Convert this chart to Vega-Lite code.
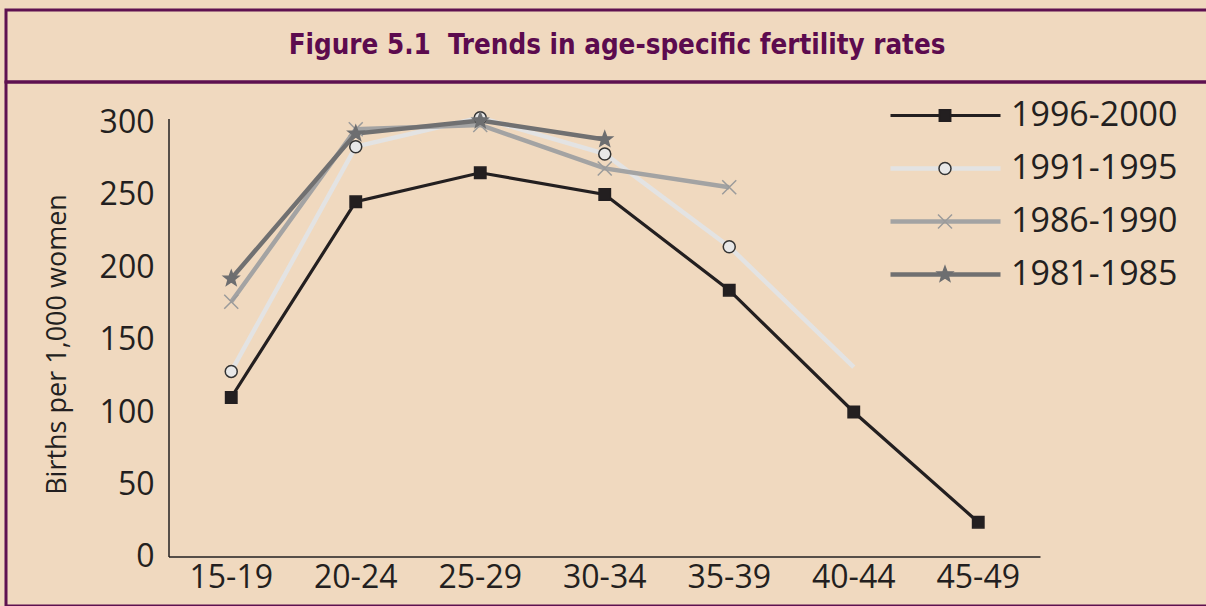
{
  "$schema": "https://vega.github.io/schema/vega-lite/v6.json",
  "background": "#F0D9BF",
  "padding": {"left": 4, "top": 8, "right": 0, "bottom": 0},
  "spacing": 0,
  "bounds": "flush",
  "config": {
    "view": {"stroke": "#5E1150", "strokeWidth": 3},
    "font": "Open Sans"
  },
  "vconcat": [
    {
      "width": 1210,
      "height": 72,
      "data": {"values": [{"label": "Figure 5.1\u00a0 Trends in age-specific fertility rates"}]},
      "mark": {"type": "text", "font": "DejaVu Sans Condensed, Roboto Condensed, Roboto", "fontWeight": "bold", "fontSize": 27.5, "color": "#5C0B4E", "align": "center", "baseline": "middle"},
      "encoding": {
        "text": {"field": "label"},
        "x": {"datum": 0.505, "type": "quantitative", "scale": {"domain": [0, 1]}, "axis": null},
        "y": {"datum": 0.5, "type": "quantitative", "scale": {"domain": [0, 1]}, "axis": null}
      }
    },
    {
      "width": 1210,
      "height": 524,
      "data": {"values": [
        {"age": "15-19", "period": "1996-2000", "rate": 110},
        {"age": "20-24", "period": "1996-2000", "rate": 245},
        {"age": "25-29", "period": "1996-2000", "rate": 265},
        {"age": "30-34", "period": "1996-2000", "rate": 250},
        {"age": "35-39", "period": "1996-2000", "rate": 184},
        {"age": "40-44", "period": "1996-2000", "rate": 100},
        {"age": "45-49", "period": "1996-2000", "rate": 24},
        {"age": "15-19", "period": "1991-1995", "rate": 128},
        {"age": "20-24", "period": "1991-1995", "rate": 283},
        {"age": "25-29", "period": "1991-1995", "rate": 303},
        {"age": "30-34", "period": "1991-1995", "rate": 278},
        {"age": "35-39", "period": "1991-1995", "rate": 214},
        {"age": "40-44", "period": "1991-1995", "rate": 131},
        {"age": "15-19", "period": "1986-1990", "rate": 176},
        {"age": "20-24", "period": "1986-1990", "rate": 295},
        {"age": "25-29", "period": "1986-1990", "rate": 298},
        {"age": "30-34", "period": "1986-1990", "rate": 268},
        {"age": "35-39", "period": "1986-1990", "rate": 255},
        {"age": "15-19", "period": "1981-1985", "rate": 192},
        {"age": "20-24", "period": "1981-1985", "rate": 292},
        {"age": "25-29", "period": "1981-1985", "rate": 301},
        {"age": "30-34", "period": "1981-1985", "rate": 288}
      ]},
      "layer": [
        {
          "data": {"values": [{}]},
          "mark": {"type": "rule", "color": "#231F20", "strokeWidth": 1.5},
          "encoding": {
            "x": {"datum": "15-19", "type": "ordinal", "bandPosition": 0},
            "y": {"datum": 0, "type": "quantitative"},
            "y2": {"datum": 302}
          }
        },
        {
          "data": {"values": [{}]},
          "mark": {"type": "rule", "color": "#231F20", "strokeWidth": 1.5},
          "encoding": {
            "x": {"datum": "15-19", "type": "ordinal", "bandPosition": 0},
            "x2": {"datum": "45-49", "bandPosition": 1},
            "y": {"datum": 0, "type": "quantitative"}
          }
        },
        {
          "mark": {"type": "line", "strokeJoin": "miter"},
          "encoding": {
            "x": {
              "field": "age", "type": "ordinal",
              "scale": {"type": "band", "domain": ["15-19", "20-24", "25-29", "30-34", "35-39", "40-44", "45-49"], "paddingInner": 0, "paddingOuter": 0, "range": [163, 1034.5]},
              "axis": {"orient": "bottom", "offset": -49, "bandPosition": 0.5, "domain": false, "ticks": false, "grid": false, "labelAngle": 0, "labelAlign": "center", "labelFontSize": 32, "labelColor": "#231F20", "labelPadding": 20, "title": null}
            },
            "y": {
              "field": "rate", "type": "quantitative",
              "scale": {"domain": [-33.8, 327.6], "nice": false, "zero": false},
              "axis": {"values": [0, 50, 100, 150, 200, 250, 300], "offset": -163, "domain": false, "ticks": false, "grid": false, "labelFontSize": 32, "labelColor": "#231F20", "labelPadding": 15, "title": "Births per 1,000 women", "titleFontSize": 27, "titleFontWeight": "normal", "titleColor": "#231F20", "titlePadding": 28}
            },
            "color": {
              "field": "period", "type": "nominal",
              "scale": {"domain": ["1996-2000", "1991-1995", "1986-1990", "1981-1985"], "range": ["#231F20", "#E3E3E3", "#A3A3A3", "#707071"]},
              "legend": {"orient": "none", "legendX": 882, "legendY": 87.5, "title": null, "symbolType": "stroke", "symbolSize": 12100, "symbolStrokeWidth": 4, "labelFontSize": 34, "labelLimit": 400, "labelColor": "#231F20", "labelOffset": 8, "clipHeight": 36, "rowPadding": 17, "padding": 0}
            },
            "strokeWidth": {
              "field": "period", "type": "nominal",
              "scale": {"type": "ordinal", "domain": ["1996-2000", "1991-1995", "1986-1990", "1981-1985"], "range": [3.2, 4.5, 4.5, 4.5]},
              "legend": null
            }
          }
        },
        {
          "transform": [{"filter": "!(datum.period == '1991-1995' && datum.age == '40-44')"}],
          "mark": {"type": "point", "filled": true, "opacity": 1, "strokeWidth": 1.5},
          "encoding": {
            "x": {"field": "age", "type": "ordinal"},
            "y": {"field": "rate", "type": "quantitative"},
            "shape": {
              "field": "period", "type": "nominal", "sort": "descending",
              "scale": {"range": ["square", "circle", "M-1,-1L1,1M-1,1L1,-1", "M0,-1L0.247,-0.34L0.951,-0.309L0.399,0.13L0.588,0.809L0,0.42L-0.588,0.809L-0.399,0.13L-0.951,-0.309L-0.247,-0.34Z"]},
              "legend": {"orient": "none", "legendX": 882, "legendY": 87.5, "title": null, "labelFontSize": 34, "labelExpr": "''", "symbolOffset": 40, "clipHeight": 36, "rowPadding": 17, "padding": 0, "symbolStrokeWidth": 1.5}
            },
            "fill": {
              "field": "period", "type": "nominal", "sort": "descending",
              "scale": {"range": ["#231F20", "#E8E8E8", "transparent", "#6D6E70"]}
            },
            "stroke": {
              "field": "period", "type": "nominal", "sort": "descending",
              "scale": {"range": ["#231F20", "#333333", "#9B9B9B", "#6D6E70"]}
            },
            "size": {
              "field": "period", "type": "nominal", "sort": "descending",
              "scale": {"type": "ordinal", "range": [130, 144, 196, 256]}
            }
          }
        }
      ]
    }
  ]
}
